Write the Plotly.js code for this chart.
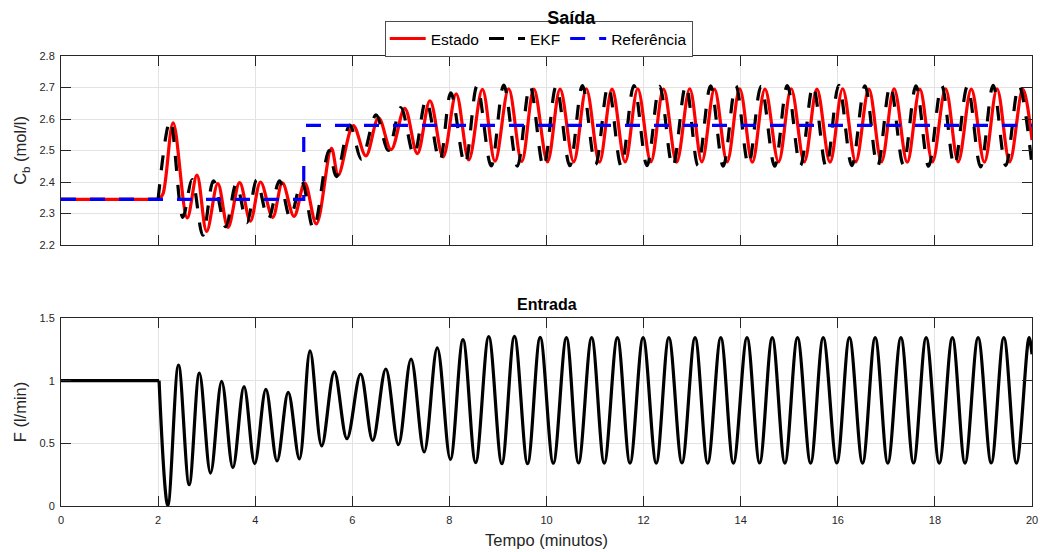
<!DOCTYPE html>
<html><head><meta charset="utf-8">
<script src="https://cdn.plot.ly/plotly-3.0.1.min.js"></script>
<style>html,body{margin:0;padding:0;background:#fff}#chart{width:1040px;height:552px}</style>
</head><body><div id="chart"></div>
<script>
// ---- Data (extrema of each curve) ----
const estadoT = [0, 2.02, 2.10,
  2.31, 2.60, 2.80, 3.00, 3.23, 3.44, 3.68, 3.90, 4.11, 4.36, 4.56, 4.80, 5.02, 5.26,
  5.57, 5.71, 6.02, 6.28, 6.54, 6.80, 7.08, 7.34, 7.60, 7.87, 8.14, 8.40, 8.68, 8.94,
  9.22, 9.49, 9.74, 10.02, 10.28, 10.56, 10.82, 11.09, 11.35, 11.62,
  11.88, 12.15, 12.41, 12.68, 12.95, 13.20, 13.46, 13.72, 13.98, 14.24,
  14.50, 14.78, 15.04, 15.31, 15.57, 15.84, 16.10, 16.37, 16.64, 16.90,
  17.16, 17.43, 17.69, 17.95, 18.22, 18.48, 18.75, 19.02, 19.28, 19.54,
  19.81, 20.0];
const estadoCb = [2.345, 2.345, 2.362,
  2.588, 2.286, 2.422, 2.243, 2.395, 2.256, 2.398, 2.276, 2.400, 2.288, 2.397, 2.291, 2.397, 2.267,
  2.507, 2.422, 2.579, 2.483, 2.604, 2.503, 2.634, 2.490, 2.658, 2.480, 2.680, 2.470, 2.694, 2.466,
  2.696, 2.465, 2.695, 2.464, 2.695, 2.464, 2.696, 2.463, 2.695, 2.464,
  2.696, 2.464, 2.695, 2.463, 2.696, 2.464, 2.695, 2.464, 2.696, 2.463,
  2.695, 2.464, 2.696, 2.464, 2.695, 2.463, 2.696, 2.464, 2.695, 2.464,
  2.696, 2.463, 2.695, 2.464, 2.696, 2.464, 2.695, 2.463, 2.696, 2.464,
  2.695, 2.533];

const ekfT = [0, 2.00,
  2.25, 2.51, 2.70, 2.92, 3.14, 3.39, 3.61, 3.83, 4.03, 4.27, 4.50, 4.72, 4.96, 5.20,
  5.52, 5.67, 5.95, 6.19, 6.49, 6.74, 7.00, 7.27, 7.52, 7.80, 8.03, 8.32, 8.57, 8.86,
  9.12, 9.40, 9.66, 9.94, 10.20, 10.48, 10.74, 11.01, 11.27, 11.54,
  11.80, 12.07, 12.33, 12.60, 12.87, 13.12, 13.38, 13.64, 13.90, 14.16,
  14.42, 14.70, 14.96, 15.23, 15.49, 15.76, 16.02, 16.29, 16.56, 16.82,
  17.08, 17.35, 17.61, 17.87, 18.14, 18.40, 18.67, 18.94, 19.20, 19.46,
  19.73, 20.0];
const ekfCb = [2.345, 2.345,
  2.595, 2.288, 2.408, 2.231, 2.404, 2.258, 2.394, 2.271, 2.406, 2.283, 2.404, 2.288, 2.401, 2.252,
  2.500, 2.417, 2.581, 2.472, 2.613, 2.500, 2.636, 2.486, 2.660, 2.467, 2.683, 2.456, 2.705, 2.451,
  2.708, 2.450, 2.705, 2.447, 2.704, 2.452, 2.706, 2.455, 2.705, 2.450,
  2.706, 2.452, 2.704, 2.448, 2.707, 2.452, 2.705, 2.450, 2.706, 2.455,
  2.704, 2.450, 2.706, 2.452, 2.705, 2.448, 2.707, 2.452, 2.705, 2.450,
  2.706, 2.455, 2.705, 2.450, 2.706, 2.452, 2.704, 2.448, 2.707, 2.452,
  2.706, 2.452];

const refT = [0, 5.0, 5.0, 20.0];
const refCb = [2.345, 2.345, 2.58, 2.58];

const entradaT = [0, 2.02,
  2.20, 2.42, 2.64, 2.85, 3.08, 3.31, 3.54, 3.77, 3.99, 4.22,
  4.45, 4.68, 4.91, 5.13, 5.37, 5.63, 5.89, 6.17, 6.42, 6.69,
  6.95, 7.21, 7.48, 7.75, 8.02, 8.28, 8.54, 8.81, 9.08, 9.34,
  9.61, 9.87, 10.14, 10.41, 10.66, 10.93, 11.19, 11.46, 11.72, 11.99,
  12.26, 12.52, 12.79, 13.06, 13.32, 13.59, 13.85, 14.13, 14.39, 14.65,
  14.91, 15.17, 15.44, 15.70, 15.98, 16.24, 16.51, 16.77, 17.03, 17.30,
  17.56, 17.82, 18.09, 18.36, 18.62, 18.89, 19.16, 19.42, 19.68, 19.94,
  20.0];
const entradaF = [1.0, 1.0,
  0.003, 1.125, 0.17, 1.06, 0.263, 0.995, 0.306, 0.952, 0.338, 0.93,
  0.359, 0.907, 0.375, 1.237, 0.479, 1.07, 0.537, 1.053, 0.524, 1.093,
  0.489, 1.173, 0.431, 1.261, 0.372, 1.327, 0.346, 1.351, 0.338, 1.354,
  0.338, 1.345, 0.342, 1.343, 0.343, 1.343, 0.342, 1.344, 0.342, 1.343,
  0.342, 1.344, 0.343, 1.343, 0.342, 1.344, 0.342, 1.343, 0.343, 1.344,
  0.342, 1.343, 0.342, 1.344, 0.343, 1.343, 0.342, 1.344, 0.342, 1.343,
  0.343, 1.344, 0.342, 1.343, 0.342, 1.344, 0.343, 1.343, 0.342, 1.344,
  1.21];

const xTicks = [0, 2, 4, 6, 8, 10, 12, 14, 16, 18, 20];
const xTickText = ['0', '2', '4', '6', '8', '10', '12', '14', '16', '18', '20'];
const cbTicks = [2.2, 2.3, 2.4, 2.5, 2.6, 2.7, 2.8];
const cbTickText = ['2.2', '2.3', '2.4', '2.5', '2.6', '2.7', '2.8'];
const fTicks = [0, 0.5, 1, 1.5];
const fTickText = ['0', '0.5', '1', '1.5'];

const seriesNames = ['Estado', 'EKF', 'Refer\u00eancia'];

// ---- Styling ----
const FONT = 'Liberation Sans, Arial, Helvetica, sans-serif';
const AX = '#262626';
const GRID = '#e3e3e3';
const DASH = '15px,14px';
const FLAT_E = 2, FLAT_K = 2, FLAT_F = 2;

const traces = [
  {x: estadoT.slice(0, FLAT_E), y: estadoCb.slice(0, FLAT_E), xaxis: 'x', yaxis: 'y', mode: 'lines',
   line: {color: '#ff0000', width: 3.2}, showlegend: false, legendgroup: 'e', hoverinfo: 'skip'},
  {x: estadoT.slice(FLAT_E - 1), y: estadoCb.slice(FLAT_E - 1), xaxis: 'x', yaxis: 'y', mode: 'lines', name: seriesNames[0],
   line: {color: '#ff0000', width: 3.2, shape: 'spline'}, legendgroup: 'e'},
  {x: ekfT.slice(0, FLAT_K), y: ekfCb.slice(0, FLAT_K), xaxis: 'x', yaxis: 'y', mode: 'lines',
   line: {color: '#000000', width: 3.2, dash: DASH}, showlegend: false, legendgroup: 'k', hoverinfo: 'skip'},
  {x: ekfT.slice(FLAT_K - 1), y: ekfCb.slice(FLAT_K - 1), xaxis: 'x', yaxis: 'y', mode: 'lines', name: seriesNames[1],
   line: {color: '#000000', width: 3.2, dash: DASH, shape: 'spline'}, legendgroup: 'k'},
  {x: refT, y: refCb, xaxis: 'x', yaxis: 'y', mode: 'lines', name: seriesNames[2],
   line: {color: '#0000ff', width: 3.2, dash: DASH}},
  {x: entradaT.slice(0, FLAT_F), y: entradaF.slice(0, FLAT_F), xaxis: 'x2', yaxis: 'y2', mode: 'lines',
   line: {color: '#000000', width: 3.2}, showlegend: false},
  {x: entradaT.slice(FLAT_F - 1), y: entradaF.slice(FLAT_F - 1), xaxis: 'x2', yaxis: 'y2', mode: 'lines',
   line: {color: '#000000', width: 3.2, shape: 'spline'}, showlegend: false}
];

const axBase = {
  showline: true, linecolor: AX, linewidth: 1, mirror: 'ticks',
  ticks: 'inside', ticklen: 10, tickwidth: 1, tickcolor: AX,
  showgrid: true, gridcolor: GRID, gridwidth: 1, zeroline: false,
  tickfont: {family: FONT, size: 11, color: AX}, tickmode: 'array', fixedrange: true
};

const layout = {
  width: 1040, height: 552,
  margin: {l: 61, r: 8, t: 56, b: 46},
  paper_bgcolor: '#ffffff', plot_bgcolor: '#ffffff',
  font: {family: FONT, color: AX},
  title: {text: '<b>Sa\u00edda</b>', font: {family: FONT, size: 18, color: '#000000'},
          x: 0.5255, xanchor: 'center', y: 0.968, yanchor: 'middle', xref: 'paper'},
  showlegend: true,
  legend: {orientation: 'h', x: 0.492, xanchor: 'center', y: 0.998, yanchor: 'bottom',
           font: {family: FONT, size: 15.5, color: '#000000'}, bgcolor: '#ffffff',
           bordercolor: '#4d4d4d', borderwidth: 1, tracegroupgap: 0, itemwidth: 36},
  xaxis: Object.assign({}, axBase, {domain: [0, 1], anchor: 'y', range: [0, 20],
           tickvals: xTicks, ticktext: xTickText, showticklabels: false}),
  yaxis: Object.assign({}, axBase, {domain: [0.58, 1], anchor: 'x', range: [2.2, 2.8],
           tickvals: cbTicks, ticktext: cbTickText, ticklabelstandoff: 3,
           title: {text: 'C<sub>b</sub> (mol/l)', font: {family: FONT, size: 16.5, color: AX}, standoff: 8}}),
  xaxis2: Object.assign({}, axBase, {domain: [0, 1], anchor: 'y2', range: [0, 20],
           tickvals: xTicks, ticktext: xTickText, ticklabelstandoff: 4,
           title: {text: 'Tempo (minutos)', font: {family: FONT, size: 16.5, color: AX}, standoff: 9}}),
  yaxis2: Object.assign({}, axBase, {domain: [0, 0.4178], anchor: 'x2', range: [0, 1.5],
           tickvals: fTicks, ticktext: fTickText, ticklabelstandoff: 3,
           title: {text: 'F (l/min)', font: {family: FONT, size: 16.5, color: AX}, standoff: 8}}),
  annotations: [{text: '<b>Entrada</b>', xref: 'paper', yref: 'paper', x: 0.5, y: 0.4467,
                 xanchor: 'center', yanchor: 'middle', showarrow: false,
                 font: {family: FONT, size: 16, color: '#000000'}}]
};

Plotly.newPlot('chart', traces, layout, {staticPlot: true, displayModeBar: false});
</script>
</body></html>
